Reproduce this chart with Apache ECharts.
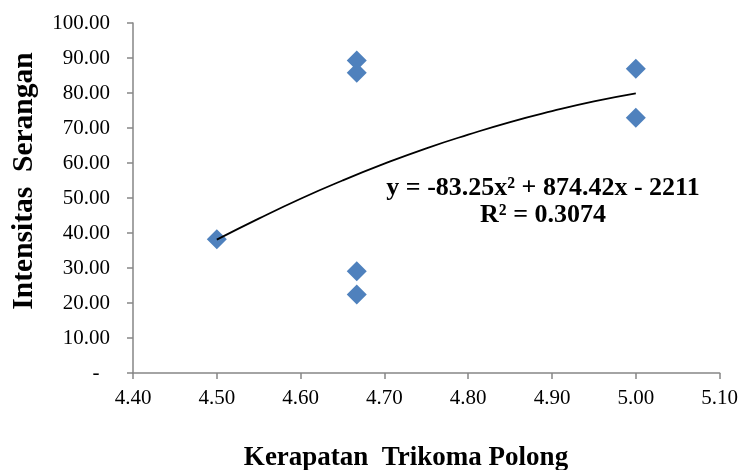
<!DOCTYPE html>
<html>
<head>
<meta charset="utf-8">
<script src="https://cdn.jsdelivr.net/npm/echarts@6/dist/echarts.min.js"></script>
<style>html,body{margin:0;padding:0;background:#fff}#c{width:741px;height:470px}</style>
</head>
<body>
<div id="c"></div>
<script>
// Observed points (Kerapatan Trikoma Polong, Intensitas Serangan)
const xValues = [4.50, 4.667, 4.667, 4.667, 4.667, 5.00, 5.00];
const yValues = [38.2, 89.3, 85.8, 29.1, 22.4, 86.9, 72.9];
// Trendline points
const trendX = [4.50, 4.55, 4.60, 4.65, 4.70, 4.75, 4.80, 4.85, 4.90, 4.95, 5.00];
const trendY = [38.1, 44.1, 49.8, 55.0, 59.8, 64.2, 68.1, 71.7, 74.8, 77.6, 79.9];
const equationText = 'y = -83.25x² + 874.42x - 2211';
const r2Text = 'R² = 0.3074';
const xTitle = 'Kerapatan  Trikoma Polong';
const yTitle = 'Intensitas  Serangan';

const font = '"Liberation Serif", "Times New Roman", serif';
const chart = echarts.init(document.getElementById('c'));
chart.setOption({
  animation: false,
  grid: {left: 133, right: 20, top: 23, bottom: 97, containLabel: false},
  xAxis: {
    type: 'value', min: 4.4, max: 5.1, interval: 0.1,
    axisLine: {show: true, lineStyle: {color: '#868686', width: 1.5}},
    axisTick: {show: true, length: 6, lineStyle: {color: '#868686', width: 1.5}},
    splitLine: {show: false},
    axisLabel: {color: '#000', fontFamily: font, fontSize: 21, margin: 15,
      formatter: v => v.toFixed(2)}
  },
  yAxis: {
    type: 'value', min: 0, max: 100, interval: 10,
    axisLine: {show: true, lineStyle: {color: '#868686', width: 1.5}},
    axisTick: {show: true, length: 6, lineStyle: {color: '#868686', width: 1.5}},
    splitLine: {show: false},
    axisLabel: {color: '#000', fontFamily: font, fontSize: 21, margin: 23,
      formatter: v => v === 0 ? '-  ' : v.toFixed(2)}
  },
  series: [
    {
      type: 'line', data: trendX.map((x, i) => [x, trendY[i]]),
      smooth: true, symbol: 'none',
      lineStyle: {color: '#000', width: 1.8}, z: 3
    },
    {
      type: 'scatter', data: xValues.map((x, i) => [x, yValues[i]]),
      symbol: 'diamond', symbolSize: 20,
      itemStyle: {color: '#4F81BD', opacity: 1}, z: 2
    }
  ],
  graphic: [
    {type: 'text', x: 543, y: 188, style: {text: equationText, fill: '#000',
      font: 'bold 26px ' + font, align: 'center', verticalAlign: 'middle'}},
    {type: 'text', x: 543, y: 215, style: {text: r2Text, fill: '#000',
      font: 'bold 26px ' + font, align: 'center', verticalAlign: 'middle'}},
    {type: 'text', x: 406, y: 458, style: {text: xTitle, fill: '#000',
      font: 'bold 27px ' + font, align: 'center', verticalAlign: 'middle'}},
    {type: 'text', x: 24, y: 181, rotation: Math.PI / 2, style: {text: yTitle, fill: '#000',
      font: 'bold 29.5px ' + font, align: 'center', verticalAlign: 'middle'}}
  ]
});
</script>
</body>
</html>
